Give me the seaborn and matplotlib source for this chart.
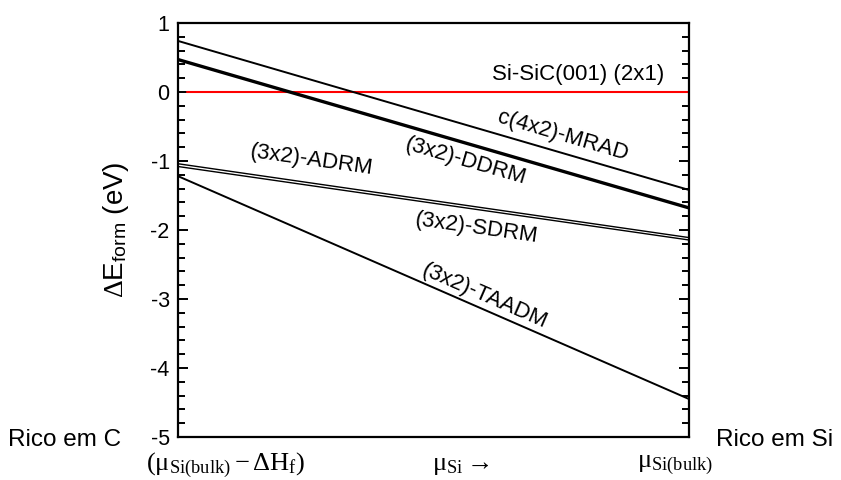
import numpy as np
import pandas as pd
import seaborn as sns
import matplotlib
matplotlib.use("Agg")
import matplotlib.pyplot as plt
from matplotlib.ticker import MultipleLocator

sns.set_theme(style="white")
plt.rcParams['font.family'] = ['Liberation Sans', 'DejaVu Sans']
plt.rcParams['axes.unicode_minus'] = False
plt.rcParams['mathtext.fontset'] = 'custom'
plt.rcParams['mathtext.rm'] = 'Liberation Serif'
plt.rcParams['mathtext.it'] = 'Liberation Serif:italic'
for k in ['text.color', 'axes.labelcolor', 'xtick.color', 'ytick.color']:
    plt.rcParams[k] = 'black'

# data: formation energy at the C-rich end (x=0) and Si-rich end (x=1)
mu = [0.0, 1.0]
mrad = [0.74, -1.42]
ddrm = [0.47, -1.68]
adrm = [-1.04, -2.11]
sdrm = [-1.08, -2.145]
taadm = [-1.22, -4.45]
ref_x = [0.018, 1.0]
ref_y = [0.0, 0.0]

fig = plt.figure(figsize=(8.41, 4.80), dpi=100)
ax = fig.add_axes([0.2117, 0.0896, 0.6076, 0.8625])

sns.lineplot(x=ref_x, y=ref_y, ax=ax, color='#ff0000', lw=1.5)
sns.lineplot(x=mu, y=mrad, ax=ax, color='black', lw=1.4)
sns.lineplot(x=mu, y=ddrm, ax=ax, color='black', lw=2.4)
sns.lineplot(x=mu, y=adrm, ax=ax, color='black', lw=1.0)
sns.lineplot(x=mu, y=sdrm, ax=ax, color='black', lw=1.0)
sns.lineplot(x=mu, y=taadm, ax=ax, color='black', lw=1.4)

ax.set_xlim(0, 1)
ax.set_ylim(-5, 1)
ax.yaxis.set_major_locator(MultipleLocator(1))
ax.yaxis.set_minor_locator(MultipleLocator(0.2))
ax.set_xticks([])
ax.tick_params(axis='y', which='both', direction='in', left=True, right=True,
               labelsize=15.5, width=1.4, color='black')
ax.tick_params(axis='y', which='major', length=7, pad=6)
ax.tick_params(axis='y', which='minor', length=5)
for s in ax.spines.values():
    s.set_color('black')
    s.set_linewidth(1.6)

ax.set_ylabel(r'$\Delta$E$_{\mathregular{form}}$ (eV)', fontsize=20, labelpad=14)

fs = 16
ax.text(0.783, 0.26, 'Si-SiC(001) (2x1)', fontsize=fs, ha='center', va='center')
ax.text(0.753, -0.64, 'c(4x2)-MRAD', fontsize=fs, ha='center', va='center', rotation=-16.3)
ax.text(0.562, -1.01, '(3x2)-DDRM', fontsize=fs, ha='center', va='center', rotation=-16.2)
ax.text(0.262, -0.99, '(3x2)-ADRM', fontsize=fs, ha='center', va='center', rotation=-8)
ax.text(0.583, -1.97, '(3x2)-SDRM', fontsize=fs, ha='center', va='center', rotation=-8)
ax.text(0.599, -2.96, '(3x2)-TAADM', fontsize=fs, ha='center', va='center', rotation=-23.6)

fig.text(8/841, 1-440/480, 'Rico em C', fontsize=17.5, ha='left', va='center')
fig.text(716/841, 1-440/480, 'Rico em Si', fontsize=17.5, ha='left', va='center')
mfs = 19
fig.text(226/841, 1-465/480, r'$(\mathrm{μ}_{\mathrm{Si(bulk)}}-\Delta\mathrm{H}_{\mathrm{f}})$',
         fontsize=mfs, ha='center', va='center')
fig.text(461/841, 1-465/480, r'$\mathrm{μ}_{\mathrm{Si}}\rightarrow$', fontsize=mfs, ha='center', va='center')
fig.text(675/841, 1-465/480, r'$\mathrm{μ}_{\mathrm{Si(bulk)}}$', fontsize=mfs, ha='center', va='center')

fig.savefig('out.png', dpi=100)
